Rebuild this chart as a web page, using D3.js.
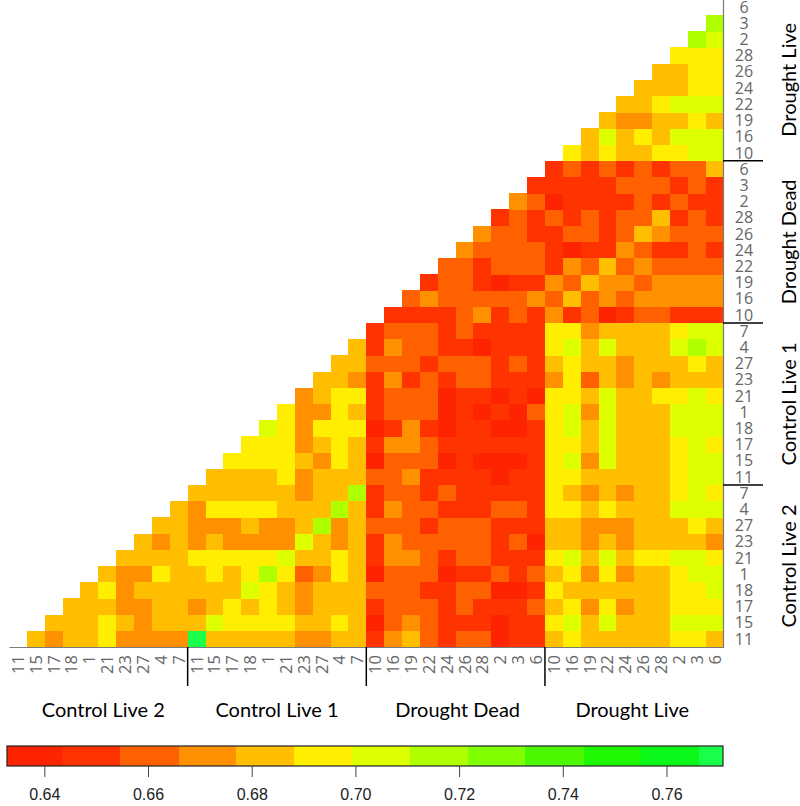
<!DOCTYPE html>
<html><head><meta charset="utf-8">
<script src="https://cdn.jsdelivr.net/npm/d3@7"></script>
<style>body{margin:0;background:#fff}</style>
</head><body>
<svg id="c" width="800" height="806"></svg>
<script>
// ---- data ----
const groups = ["Control Live 2", "Control Live 1", "Drought Dead", "Drought Live"];
const controlSamples = ["11","15","17","18","1","21","23","27","4","7"];
const droughtSamples = ["10","16","19","22","24","26","28","2","3","6"];
const sampleLabels = [].concat(controlSamples, controlSamples, droughtSamples, droughtSamples);

// rowValues[i] = values for row i (bottom = 0) at columns i+1 .. 39
const rowValues = [
 [0.682,0.671,0.682,0.682,0.694,0.671,0.671,0.671,0.671, 0.770,0.682,0.682,0.682,0.682,0.682,0.671,0.671,0.682,0.682, 0.649,0.671,0.682,0.660,0.649,0.660,0.660,0.638,0.649,0.649, 0.682,0.694,0.682,0.682,0.682,0.682,0.682,0.694,0.694,0.682],
 [0.682,0.682,0.682,0.694,0.682,0.671,0.682,0.682, 0.682,0.705,0.694,0.694,0.694,0.694,0.682,0.682,0.694,0.682, 0.638,0.660,0.671,0.660,0.649,0.649,0.649,0.638,0.649,0.649, 0.694,0.705,0.682,0.705,0.682,0.682,0.682,0.705,0.705,0.705],
 [0.682,0.682,0.682,0.671,0.671,0.682,0.682, 0.671,0.682,0.694,0.682,0.694,0.682,0.671,0.682,0.682,0.682, 0.649,0.660,0.660,0.660,0.649,0.660,0.649,0.649,0.649,0.660, 0.682,0.694,0.671,0.694,0.671,0.682,0.682,0.694,0.694,0.694],
 [0.682,0.694,0.671,0.682,0.682,0.682, 0.682,0.682,0.682,0.705,0.694,0.682,0.671,0.682,0.682,0.682, 0.660,0.660,0.660,0.649,0.649,0.660,0.660,0.638,0.638,0.649, 0.694,0.682,0.682,0.682,0.682,0.682,0.682,0.694,0.694,0.705],
 [0.682,0.671,0.671,0.694,0.682, 0.682,0.694,0.682,0.694,0.716,0.694,0.660,0.671,0.694,0.682, 0.638,0.660,0.660,0.660,0.638,0.649,0.649,0.660,0.649,0.660, 0.682,0.694,0.671,0.694,0.671,0.682,0.682,0.694,0.705,0.705],
 [0.682,0.682,0.682,0.682, 0.694,0.694,0.694,0.694,0.694,0.705,0.682,0.682,0.694,0.682, 0.649,0.671,0.671,0.660,0.649,0.660,0.660,0.649,0.649,0.649, 0.694,0.705,0.682,0.705,0.682,0.694,0.694,0.705,0.705,0.694],
 [0.682,0.671,0.682, 0.671,0.682,0.671,0.671,0.671,0.671,0.705,0.682,0.671,0.682, 0.649,0.671,0.660,0.660,0.660,0.660,0.660,0.649,0.660,0.638, 0.682,0.682,0.671,0.682,0.671,0.682,0.682,0.682,0.682,0.671],
 [0.682,0.682, 0.671,0.671,0.671,0.682,0.671,0.671,0.682,0.716,0.671,0.682, 0.660,0.660,0.660,0.649,0.660,0.660,0.660,0.649,0.649,0.649, 0.682,0.682,0.671,0.671,0.671,0.682,0.682,0.682,0.694,0.682],
 [0.682, 0.671,0.694,0.694,0.694,0.694,0.682,0.682,0.682,0.716,0.682, 0.649,0.671,0.660,0.660,0.649,0.649,0.649,0.660,0.660,0.649, 0.694,0.694,0.682,0.694,0.682,0.682,0.682,0.705,0.705,0.705],
 [0.682,0.682,0.682,0.682,0.682,0.682,0.671,0.682,0.682,0.716, 0.649,0.660,0.660,0.649,0.660,0.649,0.649,0.649,0.649,0.649, 0.694,0.682,0.671,0.682,0.671,0.682,0.682,0.694,0.705,0.694],
 [0.682,0.682,0.682,0.682,0.694,0.671,0.682,0.682,0.682, 0.660,0.660,0.671,0.649,0.649,0.649,0.649,0.638,0.649,0.649, 0.694,0.694,0.682,0.682,0.682,0.682,0.682,0.694,0.705,0.705],
 [0.694,0.694,0.694,0.694,0.682,0.671,0.694,0.682, 0.638,0.660,0.660,0.660,0.638,0.649,0.638,0.638,0.638,0.649, 0.694,0.705,0.671,0.705,0.682,0.682,0.682,0.694,0.705,0.705],
 [0.694,0.694,0.694,0.671,0.682,0.694,0.682, 0.649,0.671,0.671,0.660,0.649,0.649,0.649,0.649,0.649,0.649, 0.694,0.694,0.682,0.705,0.682,0.682,0.682,0.694,0.705,0.694],
 [0.705,0.694,0.671,0.694,0.694,0.694, 0.638,0.649,0.671,0.649,0.638,0.649,0.649,0.638,0.638,0.649, 0.694,0.705,0.682,0.705,0.682,0.682,0.682,0.705,0.705,0.705],
 [0.694,0.671,0.671,0.694,0.682, 0.649,0.660,0.660,0.660,0.638,0.649,0.638,0.649,0.638,0.660, 0.694,0.705,0.671,0.705,0.682,0.682,0.682,0.705,0.705,0.705],
 [0.671,0.682,0.694,0.694, 0.649,0.660,0.660,0.660,0.638,0.649,0.649,0.638,0.649,0.638, 0.694,0.694,0.682,0.705,0.682,0.682,0.694,0.694,0.705,0.694],
 [0.682,0.682,0.671, 0.649,0.671,0.649,0.660,0.649,0.660,0.660,0.649,0.649,0.649, 0.671,0.694,0.660,0.682,0.671,0.682,0.671,0.682,0.682,0.682],
 [0.682,0.682, 0.660,0.660,0.660,0.649,0.660,0.660,0.660,0.649,0.660,0.649, 0.682,0.694,0.682,0.682,0.671,0.682,0.682,0.682,0.694,0.682],
 [0.682, 0.649,0.671,0.660,0.660,0.649,0.649,0.638,0.649,0.649,0.649, 0.694,0.705,0.682,0.705,0.682,0.682,0.682,0.705,0.716,0.705],
 [0.649,0.660,0.660,0.660,0.649,0.660,0.649,0.649,0.649,0.649, 0.694,0.694,0.671,0.682,0.682,0.682,0.682,0.694,0.705,0.705],
 [0.649,0.649,0.649,0.649,0.660,0.671,0.649,0.660,0.649, 0.671,0.649,0.660,0.638,0.649,0.660,0.660,0.649,0.649,0.649],
 [0.660,0.671,0.660,0.660,0.660,0.660,0.660,0.671, 0.660,0.682,0.660,0.671,0.660,0.671,0.671,0.671,0.671,0.671],
 [0.649,0.660,0.660,0.649,0.638,0.649,0.649, 0.671,0.660,0.682,0.671,0.671,0.660,0.671,0.671,0.671,0.671],
 [0.660,0.660,0.649,0.660,0.660,0.660, 0.649,0.671,0.660,0.682,0.660,0.671,0.660,0.660,0.660,0.660],
 [0.671,0.660,0.660,0.660,0.660, 0.649,0.638,0.649,0.649,0.671,0.660,0.649,0.649,0.660,0.649],
 [0.671,0.660,0.660,0.649, 0.649,0.660,0.660,0.649,0.660,0.682,0.671,0.660,0.660,0.660],
 [0.649,0.660,0.649, 0.660,0.649,0.660,0.649,0.660,0.660,0.682,0.649,0.660,0.649],
 [0.671,0.660, 0.638,0.649,0.649,0.649,0.649,0.660,0.649,0.660,0.649,0.649],
 [0.649, 0.649,0.649,0.649,0.649,0.660,0.660,0.660,0.649,0.660,0.649],
 [0.649,0.660,0.649,0.660,0.649,0.660,0.649,0.660,0.660,0.682],
 [0.694,0.682,0.694,0.682,0.682,0.694,0.694,0.705,0.705],
 [0.682,0.705,0.682,0.694,0.682,0.705,0.705,0.705],
 [0.682,0.671,0.671,0.682,0.682,0.694,0.682],
 [0.682,0.682,0.694,0.705,0.705,0.705],
 [0.682,0.682,0.682,0.694,0.694],
 [0.682,0.682,0.694,0.694],
 [0.694,0.694,0.694],
 [0.716,0.705],
 [0.716]
];

const legendDomain = [0.6328, 0.7709];
const colorBreaks = [0.6435,0.6546,0.6659,0.6770,0.6881,0.6993,0.7105,0.7217,0.7328,0.7440,0.7551,0.7663];
const colorRange = ["#FF2400","#FF3300","#FF6000","#FF9000","#FFBF00","#FFEE00","#DDFF00","#AEFF00","#80FF00","#4CF800","#1EF800","#0AF81A","#1AFF4A"];
const legendTicks = [0.64,0.66,0.68,0.70,0.72,0.74,0.76];

// ---- drawing ----
const N = sampleLabels.length;
const svg = d3.select("#c");
const color = d3.scaleThreshold().domain(colorBreaks).range(colorRange);

const x = d3.scaleBand().domain(d3.range(N)).range([9, 723.6]);
const y = d3.scaleBand().domain(d3.range(N)).range([647, -1.2]);

const cells = [];
rowValues.forEach((row, i) => row.forEach((v, k) => cells.push({r: i, c: i + 1 + k, v})));

svg.append("g").selectAll("rect").data(cells).join("rect")
  .attr("x", d => x(d.c)).attr("y", d => y(d.r))
  .attr("width", x.bandwidth() + 0.3).attr("height", y.bandwidth() + 0.3)
  .attr("fill", d => color(d.v))
  .attr("shape-rendering", "crispEdges");

// right axis
const ra = svg.append("g").attr("transform", "translate(723,0)")
  .call(d3.axisRight(y).tickSize(0).tickSizeOuter(0).tickFormat(i => sampleLabels[i]));
ra.select(".domain").attr("stroke", "#7a7a7a").attr("stroke-width", 1.2);
ra.selectAll("text").attr("x", 21).attr("dy", "0.36em")
  .style("text-anchor", "middle").style("font-family", "Open Sans").style("font-size", "16px").attr("fill", "#666");

// bottom axis
const ba = svg.append("g").attr("transform", "translate(0,647)")
  .call(d3.axisBottom(x).tickSize(0).tickSizeOuter(0).tickFormat(i => sampleLabels[i]));
ba.select(".domain").attr("stroke", "#7a7a7a").attr("stroke-width", 1.2);
ba.selectAll("text").attr("transform", "rotate(-90)").attr("x", -8).attr("y", 0).attr("dy", "0.36em")
  .style("text-anchor", "end").style("font-family", "Open Sans").style("font-size", "16.5px").attr("fill", "#666");

// group separators
const sepIdx = [10, 20, 30];
svg.append("g").selectAll("line").data(sepIdx).join("line")
  .attr("x1", d => x(d)).attr("x2", d => x(d)).attr("y1", 647).attr("y2", 686)
  .attr("stroke", "#000").attr("stroke-width", 1.5);
svg.append("g").selectAll("line").data(sepIdx).join("line")
  .attr("y1", d => y(d) + y.bandwidth()).attr("y2", d => y(d) + y.bandwidth()).attr("x1", 723).attr("x2", 763)
  .attr("stroke", "#000").attr("stroke-width", 1.5);

// group titles
const titleShift = [5, 0, 2, -2];
svg.append("g").selectAll("text").data(groups).join("text")
  .attr("x", (d, g) => (x(g * 10) + x(g * 10 + 9) + x.bandwidth()) / 2 + titleShift[g])
  .attr("y", 717).attr("text-anchor", "middle")
  .style("font-family", "Lato").style("font-size", "20px").attr("fill", "#000")
  .text(d => d);
svg.append("g").selectAll("text").data(groups).join("text")
  .attr("transform", (d, g) => `translate(796,${(y(g * 10) + y.bandwidth() + y(g * 10 + 9)) / 2}) rotate(-90)`)
  .attr("text-anchor", "middle")
  .style("font-family", "Lato").style("font-size", "20px").attr("fill", "#000")
  .text(d => d);

// colour key
const lx = d3.scaleLinear().domain(legendDomain).range([7, 723]);
const bounds = [legendDomain[0]].concat(colorBreaks, [legendDomain[1]]);
const bins = d3.range(colorRange.length).map(i => ({a: bounds[i], b: bounds[i + 1], c: colorRange[i]}));
const key = svg.append("g");
key.selectAll("rect").data(bins).join("rect")
  .attr("x", d => lx(d.a)).attr("width", d => lx(d.b) - lx(d.a) + 0.3)
  .attr("y", 746).attr("height", 20).attr("fill", d => d.c).attr("shape-rendering", "crispEdges");
key.append("rect").attr("x", 7).attr("y", 746).attr("width", 716).attr("height", 20)
  .attr("fill", "none").attr("stroke", "#222").attr("stroke-width", 1.2);
const ka = key.append("g").attr("transform", "translate(0,766)")
  .call(d3.axisBottom(lx).tickValues(legendTicks).tickFormat(d3.format(".2f")).tickSize(11).tickSizeOuter(0));
ka.select(".domain").remove();
ka.selectAll("line").attr("stroke", "#444");
ka.selectAll("text").attr("y", 23).attr("fill", "#222")
  .style("font-family", "Liberation Sans").style("font-size", "16px");
</script>
</body></html>
